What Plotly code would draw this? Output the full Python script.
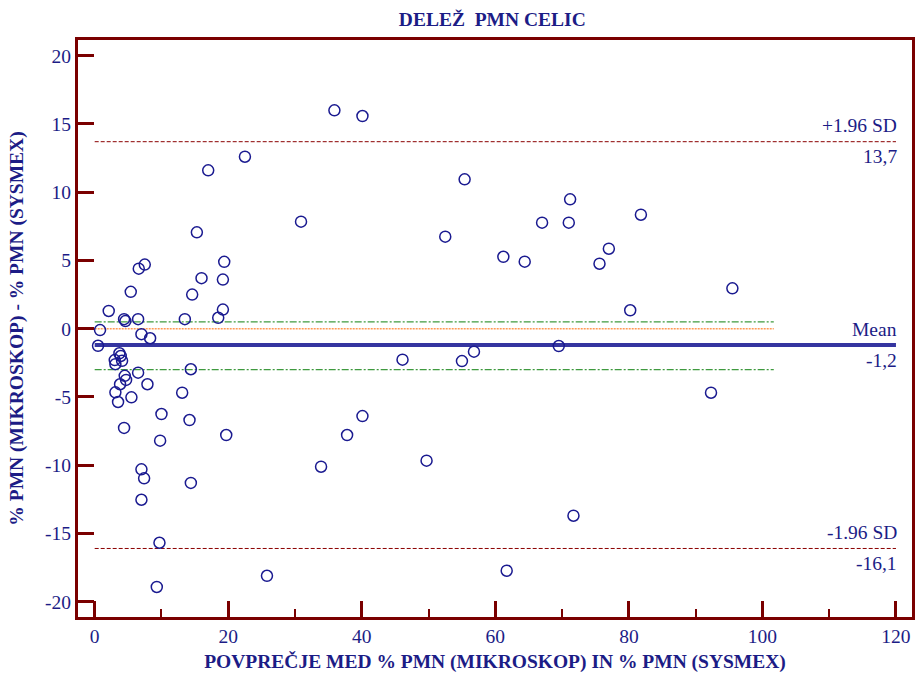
import plotly.graph_objects as go

# Bland-Altman data: mean of the two methods (x) and their difference (y)
mean_pmn = [
    0.8, 0.5, 2.1, 4.4, 4.6, 6.5, 5.4, 6.6, 7.5, 7.0, 8.3, 13.5, 14.6, 16.0, 19.4, 19.2,
    19.2, 18.5, 15.3, 17.0, 22.5, 30.9, 3.7, 3.9, 3.0, 4.1, 3.1, 4.5, 4.7, 3.8, 3.1, 3.5,
    5.5, 6.5, 7.9, 14.4, 13.1, 10.0, 14.2, 4.4, 9.8, 19.7, 7.0, 7.4, 14.4, 7.0, 9.7, 9.3,
    25.8, 35.9, 40.1, 55.4, 71.2, 67.0, 71.0, 52.5, 61.2, 64.4, 77.0, 75.6, 46.1, 55.0,
    56.8, 69.5, 40.1, 37.8, 33.9, 49.7, 71.7, 61.7, 81.8, 95.5, 80.2, 92.3,
]
diff_pmn = [
    -0.1, -1.25, 1.3, 0.7, 0.56, 0.7, 2.7, 4.4, 4.7, -0.4, -0.7, 0.7, 2.5, 3.7, 4.9, 3.6,
    1.4, 0.8, 7.06, 11.6, 12.6, 7.84, -1.8, -2.0, -2.3, -2.35, -2.6, -3.45, -3.75, -4.07,
    -4.66, -5.37, -5.03, -3.22, -4.07, -2.97, -4.69, -6.25, -6.69, -7.27, -8.2, -7.79,
    -10.3, -10.96, -11.3, -12.53, -15.68, -18.92, -18.1, 16.0, 15.58, 10.94, 9.48, 7.77,
    7.77, 6.74, 5.27, 4.91, 5.86, 4.76, -2.27, -2.37, -1.68, -1.27, -6.40, -7.79, -10.11,
    -9.67, -13.7, -17.73, 8.35, 2.96, 1.35, -4.69,
]

mean_diff = -1.2
upper_loa = 13.7
lower_loa = -16.1
mean_ci = [0.5, -3.0]

x_ticks = [0, 20, 40, 60, 80, 100, 120]
y_ticks = [-20, -15, -10, -5, 0, 5, 10, 15, 20]

NAVY = "#1c1c86"
MAROON = "#7a0000"
FONT = "Liberation Serif, Times New Roman, serif"

loa_end = 120
ci_end = 101.7


def fmt(v):
    return f"{v:.1f}".replace(".", ",")


fig = go.Figure()

# confidence interval of the mean difference
for v in mean_ci:
    fig.add_trace(go.Scatter(x=[0, ci_end], y=[v, v], mode="lines",
                             line=dict(color="#3f9a3f", width=1.3, dash="7px,2px,2px,2px"),
                             hoverinfo="skip", showlegend=False))
# line of equality
fig.add_trace(go.Scatter(x=[0, ci_end], y=[0, 0], mode="lines",
                         line=dict(color="#ff9a55", width=1.5, dash="2px,1px"),
                         hoverinfo="skip", showlegend=False))
# limits of agreement
for v in (upper_loa, lower_loa):
    fig.add_trace(go.Scatter(x=[0, loa_end], y=[v, v], mode="lines",
                             line=dict(color="#8b0000", width=1, dash="4px,2px"),
                             hoverinfo="skip", showlegend=False))
# mean difference
fig.add_trace(go.Scatter(x=[0, loa_end], y=[mean_diff, mean_diff], mode="lines",
                         line=dict(color="#3535a0", width=4),
                         hoverinfo="skip", showlegend=False))

fig.add_trace(go.Scatter(x=mean_pmn, y=diff_pmn, mode="markers",
                         marker=dict(symbol="circle-open", size=11, color="#1a1a90",
                                     line=dict(width=1.5, color="#1a1a90")),
                         showlegend=False))

labels = [
    ("+1.96 SD", fmt(upper_loa), upper_loa),
    ("Mean", fmt(mean_diff), mean_diff),
    ("-1.96 SD", fmt(lower_loa), lower_loa),
]
for top, bottom, v in labels:
    fig.add_annotation(x=loa_end, y=v, text=top, showarrow=False, xanchor="right",
                       yanchor="middle", yshift=16, xshift=3,
                       font=dict(family=FONT, size=19.5, color=NAVY))
    fig.add_annotation(x=loa_end, y=v, text=bottom, showarrow=False, xanchor="right",
                       yanchor="middle", yshift=-15, xshift=3,
                       font=dict(family=FONT, size=19.5, color=NAVY))

fig.update_layout(
    width=915, height=674,
    margin=dict(l=78, r=3, t=40, b=57, autoexpand=False),
    paper_bgcolor="white", plot_bgcolor="white",
    title=dict(text="<b>DELEŽ  PMN CELIC</b>", x=0.538, xanchor="center", y=0.972, yanchor="middle",
               font=dict(family=FONT, size=19.5, color=NAVY)),
    font=dict(family=FONT, color=NAVY),
)
fig.update_xaxes(
    range=[-2.5, 122.4], tickvals=x_ticks, ticktext=[str(t) for t in x_ticks],
    ticks="inside", ticklen=16, tickwidth=3, tickcolor=MAROON,
    minor=dict(tickvals=[10, 30, 50, 70, 90, 110], ticks="inside", ticklen=8, tickwidth=2,
               tickcolor=MAROON, showgrid=False),
    showline=True, linewidth=3, linecolor=MAROON, mirror=True,
    showgrid=False, zeroline=False, automargin=False,
    tickfont=dict(family=FONT, size=19.5, color=NAVY),
    title=dict(text="<b>POVPREČJE MED % PMN (MIKROSKOP) IN % PMN (SYSMEX)</b>", standoff=8,
               font=dict(family=FONT, size=19.5, color=NAVY)),
)
fig.update_yaxes(
    range=[-21.12, 21.15], tickvals=y_ticks, ticktext=[str(t) for t in y_ticks],
    ticks="inside", ticklen=16, tickwidth=3, tickcolor=MAROON,
    showline=True, linewidth=3, linecolor=MAROON, mirror=True,
    showgrid=False, zeroline=False, automargin=False,
    tickfont=dict(family=FONT, size=19.5, color=NAVY),
    title=dict(text="<b>% PMN (MIKROSKOP) - % PMN (SYSMEX)</b>", standoff=17,
               font=dict(family=FONT, size=19.5, color=NAVY)),
)

fig.write_html("out.html")
